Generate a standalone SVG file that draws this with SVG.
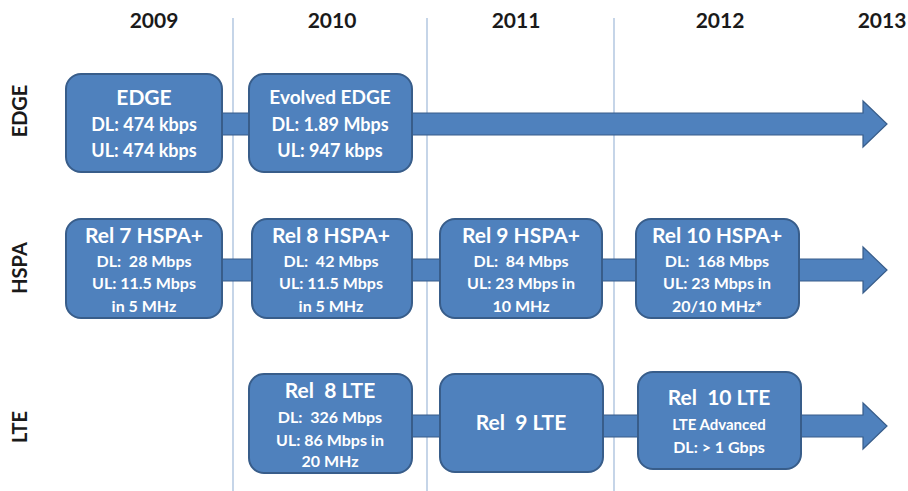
<svg xmlns="http://www.w3.org/2000/svg" width="908" height="491" viewBox="0 0 908 491">
<style>
text{font-family:Lato,"Open Sans","Liberation Sans",sans-serif;font-weight:bold;text-anchor:middle}
.yr{font-size:21px;fill:#1a1a1a}
.row{font-size:20px;fill:#1a1a1a}
.box{fill:#4f81bd;stroke:#385d8a;stroke-width:2}
.arr{fill:#4f81bd;stroke:#385d8a;stroke-width:1.2}
.t{fill:#fff;font-size:21px}
.d{fill:#fff;font-size:18px}
.s{fill:#fff;font-size:16px}
.grid{stroke:#a7bfdc;stroke-width:1.3}
</style>
<rect width="908" height="491" fill="#fff"/>
<g id="grid">
<line class="grid" x1="233" y1="18" x2="233" y2="491"/>
<line class="grid" x1="427" y1="18" x2="427" y2="491"/>
<line class="grid" x1="614" y1="18" x2="614" y2="491"/>
</g>
<g id="years">
<text class="yr" x="154" y="28">2009</text>
<text class="yr" x="332" y="28">2010</text>
<text class="yr" x="516" y="28">2011</text>
<text class="yr" x="720" y="28">2012</text>
<text class="yr" x="882" y="28">2013</text>
</g>
<g id="rows">
<text class="row" transform="translate(27,111) rotate(-90)">EDGE</text>
<text class="row" transform="translate(27,268) rotate(-90)">HSPA</text>
<text class="row" transform="translate(27,427) rotate(-90)">LTE</text>
</g>
<g id="connectors">
<path class="arr" d="M140,113 H863 V101 L887,124 L863,147 V135 H140 Z"/>
<path class="arr" d="M140,259 H863 V247 L887,270 L863,293 V281 H140 Z"/>
<path class="arr" d="M330,415 H863 V403 L887,426 L863,449 V437 H330 Z"/>
</g>
<g id="edge">
<rect class="box" x="66" y="74" width="156" height="98" rx="15"/>
<text class="t" x="144" y="105">EDGE</text>
<text class="d" x="144" y="131">DL: 474 kbps</text>
<text class="d" x="144" y="157">UL: 474 kbps</text>
</g>
<g id="evolved-edge">
<rect class="box" x="249" y="74" width="163" height="98" rx="15"/>
<text class="t" x="330" y="104" style="font-size:19px">Evolved EDGE</text>
<text class="d" x="330" y="131">DL: 1.89 Mbps</text>
<text class="d" x="330" y="157">UL: 947 kbps</text>
</g>
<g id="rel7-hspa">
<rect class="box" x="66" y="219" width="156" height="99" rx="15"/>
<text class="t" x="144" y="243">Rel 7 HSPA+</text>
<text class="s" x="144" y="267" xml:space="preserve">DL:  28 Mbps</text>
<text class="s" x="144" y="289">UL: 11.5 Mbps</text>
<text class="s" x="144" y="312">in 5 MHz</text>
</g>
<g id="rel8-hspa">
<rect class="box" x="252" y="219" width="160" height="99" rx="15"/>
<text class="t" x="331" y="243">Rel 8 HSPA+</text>
<text class="s" x="331" y="267" xml:space="preserve">DL:  42 Mbps</text>
<text class="s" x="331" y="289">UL: 11.5 Mbps</text>
<text class="s" x="331" y="312">in 5 MHz</text>
</g>
<g id="rel9-hspa">
<rect class="box" x="440" y="219" width="162" height="99" rx="15"/>
<text class="t" x="521" y="243">Rel 9 HSPA+</text>
<text class="s" x="521" y="267" xml:space="preserve">DL:  84 Mbps</text>
<text class="s" x="521" y="289">UL: 23 Mbps in</text>
<text class="s" x="521" y="312">10 MHz</text>
</g>
<g id="rel10-hspa">
<rect class="box" x="636" y="219" width="163" height="99" rx="15"/>
<text class="t" x="717" y="243">Rel 10 HSPA+</text>
<text class="s" x="717" y="267" xml:space="preserve">DL:  168 Mbps</text>
<text class="s" x="717" y="289">UL: 23 Mbps in</text>
<text class="s" x="717" y="312">20/10 MHz*</text>
</g>
<g id="rel8-lte">
<rect class="box" x="249" y="374" width="163" height="99" rx="15"/>
<text class="t" x="330" y="398" xml:space="preserve">Rel  8 LTE</text>
<text class="s" x="330" y="423" xml:space="preserve">DL:  326 Mbps</text>
<text class="s" x="330" y="446">UL: 86 Mbps in</text>
<text class="s" x="330" y="467">20 MHz</text>
</g>
<g id="rel9-lte">
<rect class="box" x="440" y="374" width="163" height="98" rx="15"/>
<text class="t" x="521" y="430" xml:space="preserve">Rel  9 LTE</text>
</g>
<g id="rel10-lte">
<rect class="box" x="638" y="372" width="163" height="97" rx="15"/>
<text class="t" x="719" y="405" xml:space="preserve">Rel  10 LTE</text>
<text class="s" x="719" y="430" style="font-size:15px">LTE Advanced</text>
<text class="s" x="719" y="453">DL: &gt; 1 Gbps</text>
</g>
</svg>
